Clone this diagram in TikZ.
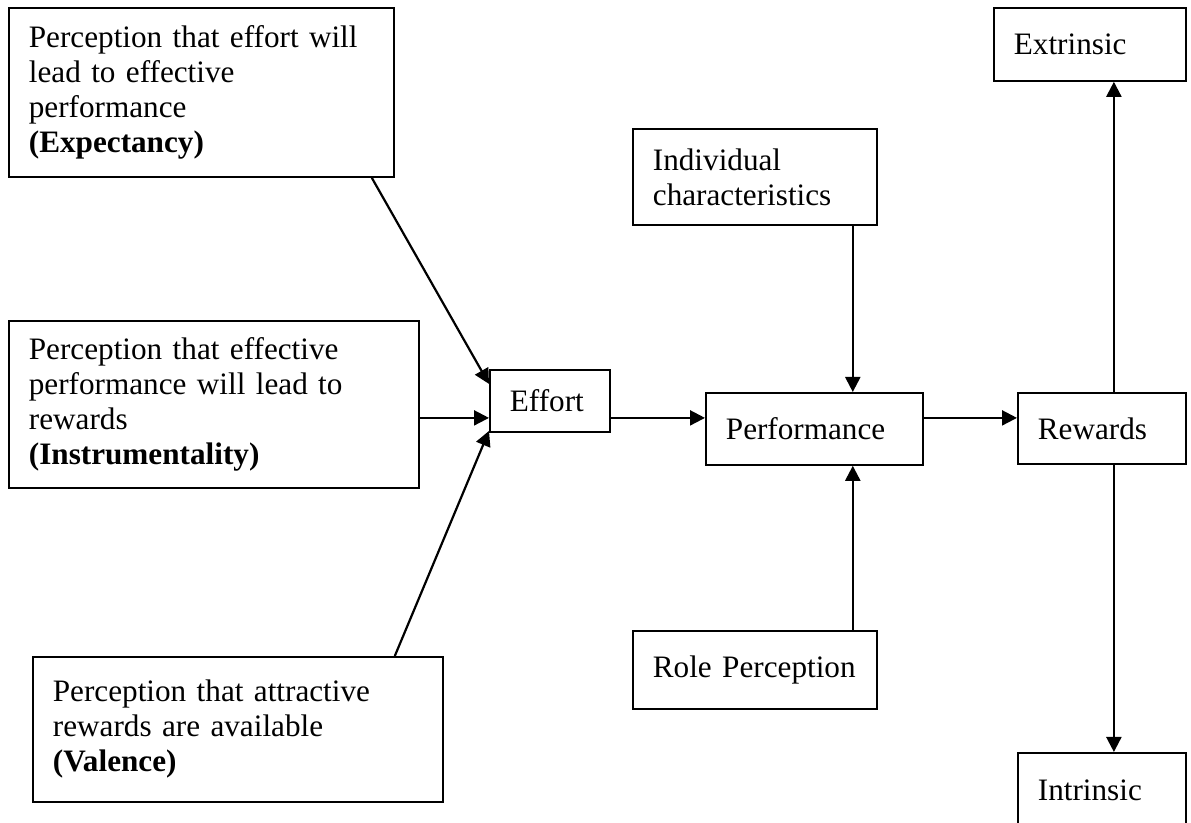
\documentclass[tikz,border=0pt]{standalone}
\usepackage{fontspec}
\setmainfont{Liberation Serif}
\usepackage{tikz}
\usetikzlibrary{positioning}
\usetikzlibrary{shapes.geometric, arrows.meta}
\tikzstyle{box} = [draw,line width=0.9pt,rectangle,anchor=north west,align=left,inner xsep=10pt,inner ysep=0pt,font=\fontsize{15.6}{17.5}\selectfont]
\tikzstyle{arrow} = [line width=1.1pt,-{Triangle[length=7.5pt,width=7.5pt]}]

\begin{document}
\begin{tikzpicture}[x=0.5pt,y=-0.5pt]
			\useasboundingbox (0,0) rectangle (1191,823);
			\clip (0,0) rectangle (1191,823);
			%Nodes
			\node (expect) [box,text width=172.5pt,minimum height=84.5pt] at (8,7) {Perception that effort will\\lead to effective\\performance\\\textbf{(Expectancy)}};
			\node (instr) [box,text width=185pt,minimum height=83.5pt] at (8,320) {Perception that effective\\performance will lead to\\rewards\\\textbf{(Instrumentality)}};
			\node (valence) [box,text width=185pt,minimum height=72.5pt] at (32,656) {Perception that attractive\\rewards are available\\\textbf{(Valence)}};
			\node (effort) [box,text width=40pt,minimum height=31pt] at (489,369) {Effort};
			\node (perf) [box,text width=88.5pt,minimum height=36pt] at (705,392) {Performance};
			\node (indiv) [box,text width=102pt,minimum height=48pt] at (632,128) {Individual\\characteristics};
			\node (role) [box,text width=102pt,minimum height=39pt] at (632,630) {Role Perception};
			\node (rew) [box,text width=64pt,minimum height=35.5pt] at (1017,392) {Rewards};
			\node (extr) [box,text width=76pt,minimum height=36.5pt] at (993,7) {Extrinsic};
			\node (intr) [box,text width=64pt,minimum height=37pt] at (1017,752) {Intrinsic};
			\coordinate (row) at ([yshift=-8.5pt]effort.west);
			\coordinate (col) at ([xshift=-12.5pt]indiv.south east);
			\coordinate (rcol) at ([xshift=6pt]rew.north);
			
			%Lines
			\draw[arrow] ([xshift=-11.5pt]expect.south east) -- ([yshift=8.5pt]effort.west);
			\draw[arrow] (row -| instr.east) -- (row);
			\draw[arrow] ([xshift=-24.5pt]valence.north east) -- ([yshift=-15pt]effort.west);
			\draw[arrow] (row -| effort.east) -- (row -| perf.west);
			\draw[arrow] (col) -- (col |- perf.north);
			\draw[arrow] (col |- role.north) -- (col |- perf.south);
			\draw[arrow] (row -| perf.east) -- (row -| rew.west);
			\draw[arrow] (rcol) -- (rcol |- extr.south);
			\draw[arrow] (rcol |- rew.south) -- (rcol |- intr.north);
		\end{tikzpicture}
\end{document}
